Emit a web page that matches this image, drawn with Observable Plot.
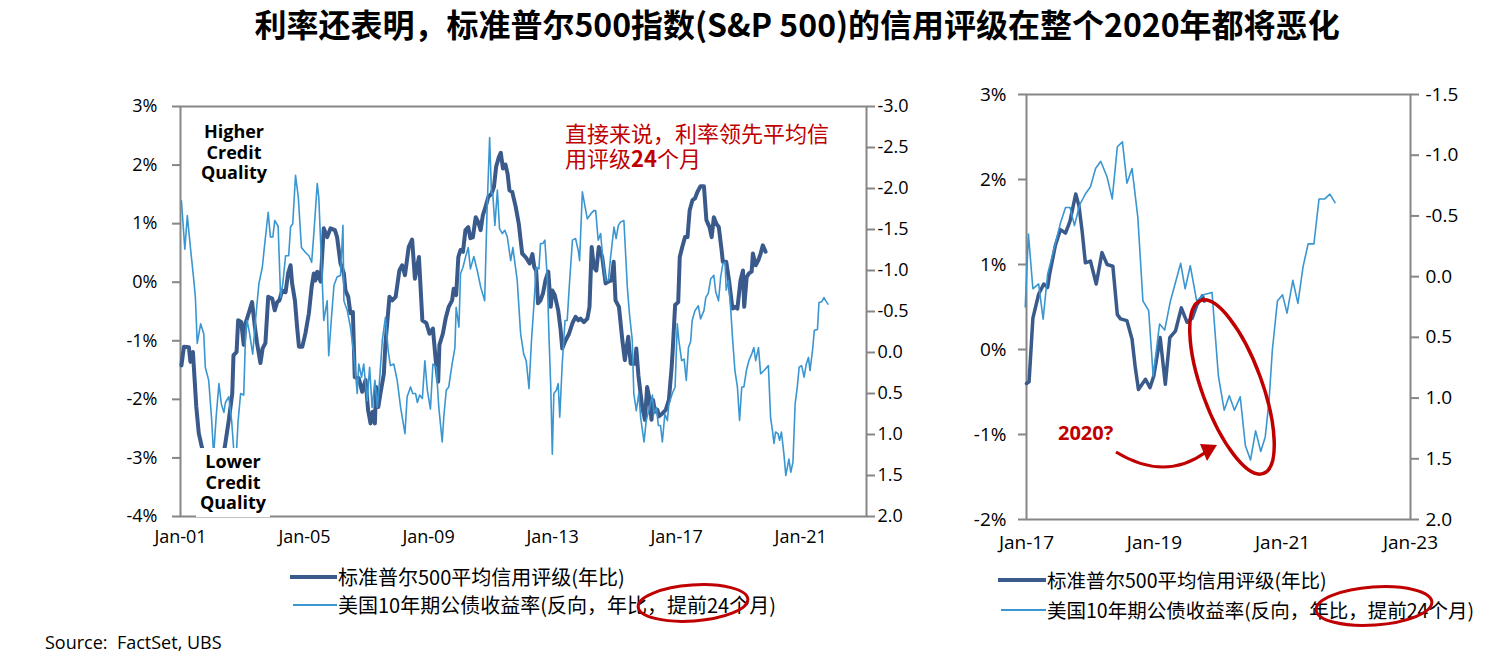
<!DOCTYPE html>
<html><head><meta charset="utf-8">
<script src="https://cdn.jsdelivr.net/npm/d3@7"></script>
<script src="https://cdn.jsdelivr.net/npm/@observablehq/plot@0.6"></script>
<style>
html,body{margin:0;padding:0;background:#fff;}
#wrap{position:relative;width:1498px;height:668px;overflow:hidden;background:#fff;font-family:"Open Sans","Noto Sans CJK SC",sans-serif;color:#000;}
.abs{position:absolute;white-space:nowrap;}
.cjk{font-family:"Noto Sans CJK SC",sans-serif;}
#title{left:797px;top:0px;transform:translateX(-50%);font-size:32px;font-weight:700;line-height:46px;}
.qual{font-family:"Open Sans",sans-serif;font-weight:700;font-size:18px;line-height:20.5px;text-align:center;background:#fff;}
.red{color:#c00000;}
.sw{position:absolute;}
</style></head>
<body><div id="wrap">
<div id="title" class="abs cjk">利率还表明，标准普尔500指数(S&amp;P 500)的信用评级在整个2020年都将恶化</div>
</div>
<script>
// ---------- data (decimal year, value) ----------
// Left panel: S&P 500 average credit rating, YoY % (left axis)
const creditLong = [[2001.03,-1.42],[2001.11,-1.10],[2001.27,-1.11],[2001.32,-1.36],[2001.40,-1.19],[2001.43,-1.44],[2001.51,-2.13],[2001.59,-2.58],[2001.70,-2.84],[2001.85,-3.15],[2002.02,-3.35],[2002.2,-3.25],[2002.35,-3.0],[2002.43,-2.81],[2002.56,-2.35],[2002.67,-1.90],[2002.71,-1.25],[2002.81,-1.19],[2002.86,-0.65],[2002.96,-0.68],[2003.04,-1.07],[2003.10,-0.70],[2003.20,-0.53],[2003.31,-0.34],[2003.40,-0.76],[2003.47,-1.04],[2003.58,-1.38],[2003.65,-1.13],[2003.74,-1.04],[2003.83,-0.25],[2003.96,-0.28],[2004.04,-0.48],[2004.12,-0.34],[2004.19,-0.31],[2004.28,-0.14],[2004.39,-0.17],[2004.47,0.15],[2004.55,0.29],[2004.60,-0.02],[2004.69,-0.31],[2004.76,-0.76],[2004.82,-1.10],[2004.93,-1.10],[2005.03,-0.87],[2005.14,-0.53],[2005.23,-0.08],[2005.30,0.15],[2005.35,0.03],[2005.41,0.18],[2005.52,0.01],[2005.62,0.92],[2005.73,0.77],[2005.84,0.92],[2005.98,0.89],[2006.05,0.77],[2006.16,0.32],[2006.27,0.15],[2006.32,-0.14],[2006.41,-0.25],[2006.48,-0.53],[2006.56,-0.51],[2006.62,-1.62],[2006.75,-1.64],[2006.86,-1.87],[2006.97,-1.67],[2007.05,-2.18],[2007.13,-2.41],[2007.20,-2.21],[2007.27,-2.41],[2007.31,-1.79],[2007.38,-2.13],[2007.45,-1.90],[2007.56,-1.56],[2007.61,-1.05],[2007.74,-0.25],[2007.83,-0.31],[2007.94,-0.25],[2008.06,0.20],[2008.15,0.29],[2008.24,0.12],[2008.36,0.60],[2008.47,0.73],[2008.56,0.06],[2008.69,0.43],[2008.80,-0.65],[2008.93,-0.70],[2009.03,-0.88],[2009.14,-0.79],[2009.23,-1.33],[2009.31,-1.70],[2009.35,-1.07],[2009.46,-0.88],[2009.55,-0.62],[2009.65,-0.42],[2009.76,-0.31],[2009.81,-0.11],[2009.89,-0.22],[2009.96,0.43],[2010.03,0.55],[2010.11,0.52],[2010.19,0.89],[2010.28,0.94],[2010.35,0.75],[2010.43,0.77],[2010.52,1.11],[2010.60,1.03],[2010.68,0.89],[2010.75,1.14],[2010.84,1.29],[2010.93,1.46],[2011.03,1.51],[2011.11,1.63],[2011.18,1.97],[2011.27,2.14],[2011.33,2.21],[2011.40,1.94],[2011.48,2.01],[2011.55,1.85],[2011.61,1.57],[2011.70,1.54],[2011.81,1.29],[2011.91,1.00],[2012.02,0.49],[2012.13,0.43],[2012.26,0.32],[2012.35,0.48],[2012.41,0.26],[2012.47,0.20],[2012.53,-0.36],[2012.61,-0.31],[2012.69,-0.19],[2012.77,0.03],[2012.86,0.18],[2012.94,-0.42],[2012.99,-0.14],[2013.07,-0.22],[2013.18,-0.48],[2013.26,-0.82],[2013.31,-1.13],[2013.42,-0.99],[2013.53,-0.88],[2013.64,-0.70],[2013.74,-0.59],[2013.83,-0.65],[2013.90,-0.62],[2014.01,-0.68],[2014.12,-0.62],[2014.19,-0.42],[2014.26,0.60],[2014.33,0.26],[2014.41,0.20],[2014.49,0.60],[2014.60,0.43],[2014.71,-0.02],[2014.80,0.01],[2014.90,0.03],[2014.97,0.35],[2015.03,-0.31],[2015.14,-0.42],[2015.25,-0.99],[2015.33,-1.33],[2015.44,-0.93],[2015.52,-1.39],[2015.66,-1.39],[2015.70,-1.13],[2015.77,-1.60],[2015.89,-2.13],[2015.98,-2.35],[2016.05,-1.79],[2016.13,-2.01],[2016.19,-2.35],[2016.24,-2.01],[2016.30,-2.21],[2016.38,-2.18],[2016.43,-2.29],[2016.54,-2.24],[2016.65,-2.18],[2016.75,-2.01],[2016.84,-1.44],[2016.88,-1.10],[2016.95,-0.39],[2017.05,-0.34],[2017.10,0.43],[2017.18,0.60],[2017.27,0.77],[2017.35,0.77],[2017.42,1.23],[2017.51,1.40],[2017.59,1.43],[2017.67,1.54],[2017.77,1.64],[2017.88,1.64],[2017.96,1.06],[2018.06,0.94],[2018.13,0.77],[2018.20,1.11],[2018.28,1.00],[2018.36,0.94],[2018.45,0.55],[2018.49,0.35],[2018.60,0.35],[2018.69,0.03],[2018.80,-0.45],[2018.88,-0.42],[2018.96,-0.45],[2019.06,0.03],[2019.14,0.20],[2019.18,-0.42],[2019.26,0.09],[2019.33,0.15],[2019.42,0.18],[2019.46,0.49],[2019.55,0.29],[2019.64,0.38],[2019.71,0.49],[2019.78,0.63],[2019.87,0.52]];
// Left panel: US 10y yield, inverted, YoY, led 24 months (right axis)
const yieldLong = [[2001.03,-1.85],[2001.14,-1.26],[2001.22,-1.67],[2001.32,-1.28],[2001.43,-0.88],[2001.48,-0.67],[2001.54,-0.11],[2001.65,-0.35],[2001.75,-0.23],[2001.80,0.18],[2001.91,0.34],[2002.00,0.79],[2002.07,1.25],[2002.15,0.79],[2002.24,0.38],[2002.32,0.63],[2002.40,0.73],[2002.45,0.61],[2002.56,0.54],[2002.65,0.83],[2002.74,1.30],[2002.80,1.25],[2002.86,0.83],[2002.94,0.50],[2003.04,0.52],[2003.10,-0.23],[2003.15,-0.39],[2003.23,-0.23],[2003.33,0.02],[2003.42,-0.39],[2003.53,-0.84],[2003.64,-1.04],[2003.72,-1.33],[2003.83,-1.71],[2003.90,-1.41],[2003.98,-1.41],[2004.04,-1.61],[2004.15,-1.54],[2004.23,-0.67],[2004.30,-0.84],[2004.39,-1.18],[2004.49,-1.18],[2004.55,-1.53],[2004.62,-1.57],[2004.71,-2.16],[2004.80,-1.89],[2004.90,-1.28],[2005.03,-1.22],[2005.14,-1.18],[2005.23,-1.10],[2005.30,-1.45],[2005.41,-2.06],[2005.46,-1.89],[2005.57,-0.88],[2005.62,-0.39],[2005.73,-0.63],[2005.78,0.04],[2005.87,-0.43],[2005.95,-0.82],[2006.05,-0.92],[2006.16,-0.94],[2006.24,-1.55],[2006.27,-0.63],[2006.38,-0.51],[2006.48,-0.31],[2006.59,0.02],[2006.70,0.50],[2006.75,0.14],[2006.84,0.30],[2006.91,0.14],[2007.02,0.59],[2007.10,0.18],[2007.18,0.67],[2007.27,0.34],[2007.35,0.67],[2007.42,0.34],[2007.51,-0.15],[2007.61,-0.43],[2007.70,-0.02],[2007.77,0.16],[2007.88,0.14],[2007.99,0.34],[2008.10,0.67],[2008.24,0.99],[2008.31,0.54],[2008.42,0.42],[2008.49,0.50],[2008.58,0.50],[2008.64,0.61],[2008.71,0.52],[2008.80,0.56],[2008.88,0.10],[2008.96,0.46],[2009.06,0.69],[2009.14,0.14],[2009.25,0.18],[2009.33,0.67],[2009.44,1.09],[2009.49,0.79],[2009.57,0.46],[2009.65,0.42],[2009.76,0.14],[2009.85,-0.06],[2009.89,-0.55],[2009.98,-0.31],[2010.03,-0.96],[2010.11,-1.04],[2010.19,-1.16],[2010.28,-1.28],[2010.35,-1.02],[2010.46,-1.17],[2010.57,-1.00],[2010.68,-0.80],[2010.81,-0.63],[2010.89,-1.77],[2010.97,-2.62],[2011.03,-1.94],[2011.07,-1.94],[2011.14,-1.55],[2011.22,-1.98],[2011.29,-1.51],[2011.38,-1.45],[2011.46,-1.49],[2011.54,-1.41],[2011.65,-1.12],[2011.72,-1.28],[2011.86,-0.88],[2011.97,-0.23],[2012.07,0.02],[2012.15,0.10],[2012.24,0.44],[2012.32,-0.15],[2012.40,-0.59],[2012.47,-1.04],[2012.56,-1.02],[2012.61,-1.33],[2012.69,-1.33],[2012.75,-1.37],[2012.83,-0.90],[2012.88,-0.23],[2012.94,0.42],[2012.99,1.24],[2013.04,0.50],[2013.12,0.46],[2013.18,0.38],[2013.23,0.79],[2013.31,0.14],[2013.40,-0.39],[2013.47,-0.39],[2013.55,-0.88],[2013.64,-1.37],[2013.74,-1.39],[2013.83,-1.24],[2013.87,-1.12],[2013.96,-1.96],[2014.04,-1.79],[2014.12,-1.63],[2014.23,-1.69],[2014.33,-1.73],[2014.39,-1.73],[2014.47,-1.37],[2014.55,-1.45],[2014.62,-1.14],[2014.71,-0.88],[2014.80,-0.88],[2014.87,-1.16],[2014.98,-1.53],[2015.05,-1.39],[2015.12,-1.55],[2015.19,-1.59],[2015.30,-1.61],[2015.41,-0.80],[2015.48,-0.47],[2015.57,-0.15],[2015.62,0.50],[2015.70,0.71],[2015.78,0.50],[2015.84,0.79],[2015.95,1.09],[2016.02,0.83],[2016.13,0.67],[2016.22,0.52],[2016.27,0.75],[2016.35,0.67],[2016.41,0.89],[2016.48,0.89],[2016.54,1.09],[2016.62,0.75],[2016.70,0.83],[2016.75,0.63],[2016.86,0.50],[2016.95,0.42],[2017.02,-0.35],[2017.07,-0.15],[2017.16,0.10],[2017.24,0.08],[2017.31,0.34],[2017.38,-0.06],[2017.45,-0.13],[2017.50,-0.39],[2017.59,-0.51],[2017.70,-0.57],[2017.77,-0.41],[2017.88,-0.51],[2017.94,-0.67],[2018.02,-0.72],[2018.10,-0.90],[2018.20,-0.94],[2018.26,-0.74],[2018.35,-0.63],[2018.42,-0.92],[2018.49,-1.08],[2018.56,-1.10],[2018.60,-0.76],[2018.67,-0.88],[2018.74,-0.55],[2018.80,-0.19],[2018.88,0.22],[2018.96,0.42],[2019.03,0.83],[2019.10,0.42],[2019.17,0.42],[2019.25,0.22],[2019.33,0.10],[2019.42,0.02],[2019.49,-0.06],[2019.55,0.10],[2019.64,-0.06],[2019.71,0.26],[2019.82,0.22],[2019.96,0.16],[2020.03,0.79],[2020.09,0.95],[2020.14,1.11],[2020.19,0.97],[2020.27,0.99],[2020.32,1.07],[2020.38,0.97],[2020.46,1.24],[2020.52,1.50],[2020.57,1.40],[2020.62,1.30],[2020.68,1.46],[2020.75,1.34],[2020.82,0.63],[2020.89,0.42],[2020.95,0.18],[2021.03,0.16],[2021.11,0.30],[2021.18,0.14],[2021.25,0.06],[2021.30,0.22],[2021.38,-0.02],[2021.44,-0.27],[2021.54,-0.28],[2021.59,-0.61],[2021.68,-0.62],[2021.75,-0.67],[2021.81,-0.63],[2021.88,-0.59]];
// Right panel (zoom 2017+)
const creditShort = [[2017.0,-0.40],[2017.04,-0.38],[2017.10,0.37],[2017.19,0.65],[2017.27,0.77],[2017.33,0.73],[2017.36,0.88],[2017.45,1.22],[2017.53,1.41],[2017.61,1.37],[2017.68,1.51],[2017.77,1.83],[2017.82,1.69],[2017.87,1.39],[2017.92,1.02],[2018.00,1.04],[2018.09,0.77],[2018.18,1.14],[2018.26,1.00],[2018.35,0.98],[2018.42,0.41],[2018.47,0.36],[2018.57,0.34],[2018.65,0.12],[2018.70,-0.21],[2018.75,-0.47],[2018.86,-0.35],[2018.93,-0.45],[2018.99,-0.31],[2019.09,0.14],[2019.17,-0.41],[2019.24,0.14],[2019.33,0.22],[2019.42,0.49],[2019.51,0.32],[2019.59,0.37],[2019.66,0.52],[2019.75,0.63],[2019.78,0.57]];
const yieldShort = [[2016.98,0.25],[2017.03,-0.35],[2017.10,0.10],[2017.19,0.06],[2017.26,0.35],[2017.33,-0.02],[2017.45,-0.27],[2017.53,-0.44],[2017.61,-0.57],[2017.68,-0.57],[2017.75,-0.42],[2017.83,-0.59],[2017.92,-0.68],[2018.00,-0.74],[2018.08,-0.89],[2018.16,-0.95],[2018.26,-0.82],[2018.34,-0.64],[2018.42,-1.07],[2018.50,-1.11],[2018.57,-0.77],[2018.65,-0.89],[2018.74,-0.49],[2018.82,0.20],[2018.91,0.28],[2018.98,0.82],[2019.08,0.39],[2019.16,0.44],[2019.25,0.20],[2019.41,-0.11],[2019.48,0.10],[2019.56,-0.09],[2019.66,0.20],[2019.77,0.15],[2019.90,0.13],[2020.00,0.82],[2020.09,1.10],[2020.17,0.98],[2020.25,1.10],[2020.34,0.99],[2020.42,1.39],[2020.50,1.51],[2020.58,1.27],[2020.66,1.44],[2020.73,1.32],[2020.79,1.02],[2020.84,0.61],[2020.92,0.20],[2021.00,0.15],[2021.07,0.30],[2021.16,0.03],[2021.24,0.22],[2021.32,-0.08],[2021.40,-0.27],[2021.49,-0.27],[2021.57,-0.64],[2021.66,-0.64],[2021.74,-0.68],[2021.82,-0.61]];

const longYearTicks = [2001, 2005, 2009, 2013, 2017, 2021];
const shortYearTicks = [2017, 2019, 2021, 2023];
const longLeftTicks = [-4, -3, -2, -1, 0, 1, 2, 3];
const longRightTicks = [-3, -2.5, -2, -1.5, -1, -0.5, 0, 0.5, 1, 1.5, 2];
const shortLeftTicks = [-2, -1, 0, 1, 2, 3];
const shortRightTicks = [-1.5, -1, -0.5, 0, 0.5, 1, 1.5, 2];
const seriesNames = ["标准普尔500平均信用评级(年比)", "美国10年期公债收益率(反向，年比，提前24个月)"];

// ---------- helpers ----------
const DARK = "#3a5a8b", LIGHT = "#3a96d1", AXIS = "#868686", RED = "#c00000";
const FONT = '"Open Sans","Noto Sans CJK SC",sans-serif';
const toDate = t => { const y = Math.floor(t); const a = Date.UTC(y,0,1), b = Date.UTC(y+1,0,1); return new Date(a + (t - y) * (b - a)); };
const rows = arr => arr.map(([t, v]) => ({date: toDate(t), value: v}));
const jan = y => new Date(Date.UTC(y, 0, 1));
const janFmt = d => "Jan-" + String(d.getUTCFullYear()).slice(2);

const wrap = document.getElementById("wrap");
function place(el, left, top) {
  el.style.position = "absolute"; el.style.left = left + "px"; el.style.top = top + "px";
  wrap.appendChild(el);
}

function panel(c) {
  const common = {width: c.width, height: c.height, marginLeft: c.ml, marginRight: c.mr, marginTop: c.mt, marginBottom: c.mb,
    style: {background: "transparent", fontFamily: FONT, fontSize: c.fs + "px", color: "#000", overflow: "visible"}};
  const xs = {type: "utc", domain: c.xDomain};
  const a = Plot.plot({...common, x: xs, y: {domain: c.yL.domain},
    marks: [
      Plot.frame({stroke: AXIS, strokeWidth: 2}),
      Plot.axisY({anchor: "left", ticks: c.yL.ticks, tickFormat: c.yL.fmt, tickSize: 8, tickPadding: c.yL.pad,
        stroke: AXIS, strokeWidth: 2, fill: "#000", label: null}),
      Plot.axisX({ticks: c.xTicks.map(jan), tickFormat: janFmt, tickSize: 0, tickPadding: c.xPad, fill: "#000", label: null}),
      Plot.line(rows(c.dark), {x: "date", y: "value", stroke: DARK, strokeWidth: c.dw, strokeLinejoin: "round", strokeLinecap: "round"})
    ]});
  const b = Plot.plot({...common, x: {...xs, axis: null}, y: {domain: c.yR.domain, reverse: true},
    marks: [
      Plot.axisY({anchor: "right", ticks: c.yR.ticks, tickFormat: c.yR.fmt, tickSize: 8, tickPadding: c.yR.pad,
        stroke: AXIS, strokeWidth: 2, fill: "#000", label: null}),
      Plot.line(rows(c.light), {x: "date", y: "value", stroke: LIGHT, strokeWidth: c.lw, strokeLinejoin: "round"})
    ]});
  place(a, c.left, c.top);
  place(b, c.left, c.top);
}

panel({left: 0, top: 0, width: 920, height: 560, ml: 180, mr: 54, mt: 106, mb: 44, fs: 18,
  xDomain: [jan(2001), new Date(Date.UTC(2023, 1, 15))], xTicks: longYearTicks, xPad: 14,
  yL: {domain: [-4, 3], ticks: longLeftTicks, fmt: d => d + "%", pad: 15},
  yR: {domain: [-3, 2], ticks: longRightTicks, fmt: d => d.toFixed(1), pad: 3},
  dark: creditLong, light: yieldLong, dw: 4, lw: 1.6});

panel({left: 940, top: 0, width: 555, height: 560, ml: 86, mr: 85, mt: 94, mb: 41, fs: 19,
  xDomain: [jan(2017), jan(2023)], xTicks: shortYearTicks, xPad: 16,
  yL: {domain: [-2, 3], ticks: shortLeftTicks, fmt: d => d + "%", pad: 12},
  yR: {domain: [-1.5, 2], ticks: shortRightTicks, fmt: d => d.toFixed(1), pad: 7},
  dark: creditShort, light: yieldShort, dw: 3.5, lw: 1.6});

// ---------- text annotations ----------
function div(html, cls, left, top, css) {
  const d = document.createElement("div");
  d.className = "abs " + (cls || ""); d.innerHTML = html;
  if (css) Object.assign(d.style, css);
  place(d, left, top);
  return d;
}
div("Higher<br>Credit<br>Quality", "qual", 198, 121, {width: "72px"});
div("Lower<br>Credit<br>Quality", "qual", 196, 448, {width: "74px", paddingTop: "3px", height: "66px"});
div('直接来说，利率领先平均信', "cjk red", 565, 120, {fontSize: "22px", lineHeight: "25px"});
div('用评级<b>24</b>个月', "cjk red", 565, 145, {fontSize: "22px", lineHeight: "25px"});
div("<b>2020?</b>", "red", 1058, 421, {fontSize: "20px", lineHeight: "24px", fontFamily: '"Open Sans",sans-serif'});

// legends
function legend(x0, xText, y1, y2, fs) {
  const s1 = document.createElement("div"); s1.className = "sw";
  Object.assign(s1.style, {width: (xText - x0 - 1) + "px", height: "4px", background: DARK});
  place(s1, x0, y1 - 2);
  const s2 = document.createElement("div"); s2.className = "sw";
  Object.assign(s2.style, {width: (xText - x0 - 4) + "px", height: "2px", background: LIGHT});
  place(s2, x0 + 3, y2 - 1);
  div(seriesNames[0], "cjk", xText, y1 - 13, {fontSize: fs + "px", lineHeight: "26px"});
  div(seriesNames[1], "cjk", xText, y2 - 13, {fontSize: fs + "px", lineHeight: "26px"});
}
legend(290, 338, 577, 605, 20);
legend(998, 1047, 580, 610, 19.5);
div("Source:&nbsp; FactSet, UBS", "", 45, 630, {fontSize: "18px", lineHeight: "24px"});

// ---------- drawn annotations (ellipses, arrow) ----------
const ns = "http://www.w3.org/2000/svg";
const ov = document.createElementNS(ns, "svg");
ov.setAttribute("width", 1498); ov.setAttribute("height", 668);
ov.style.position = "absolute"; ov.style.left = "0"; ov.style.top = "0"; ov.style.pointerEvents = "none";
ov.innerHTML = `
<g fill="none" stroke="${RED}">
 <ellipse cx="1232" cy="387" rx="30" ry="92" transform="rotate(-20 1232 387)" stroke-width="3.5"/>
 <ellipse cx="693" cy="603" rx="55" ry="18" transform="rotate(-4 693 603)" stroke-width="3"/>
 <ellipse cx="1374" cy="606" rx="58" ry="19" transform="rotate(-4 1374 606)" stroke-width="3"/>
 <path d="M1116,452 Q1165,482 1206,452" stroke-width="3"/>
</g>
<polygon points="1217,445 1200,444 1207,461" fill="${RED}"/>`;
wrap.appendChild(ov);
</script>
</body></html>
